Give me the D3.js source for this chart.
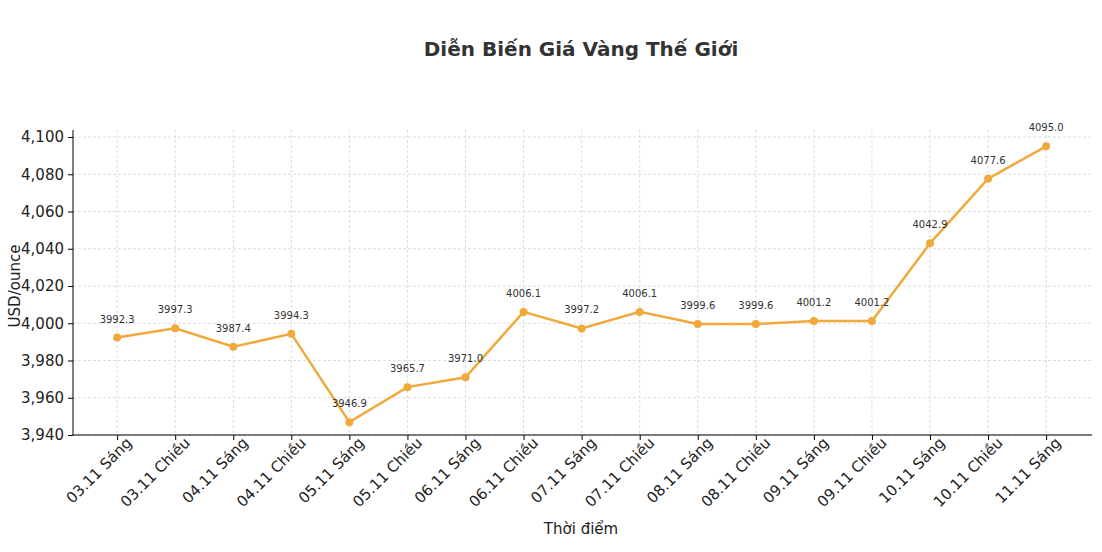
<!DOCTYPE html>
<html><head><meta charset="utf-8">
<script src="https://cdn.jsdelivr.net/npm/d3@7"></script>
<style>body{margin:0;background:#fff;font-family:"DejaVu Sans",sans-serif}</style>
</head><body><svg id="c" width="1102" height="552"></svg>
<script>
let labels = ["03.11 Sáng","03.11 Chiều","04.11 Sáng","04.11 Chiều","05.11 Sáng","05.11 Chiều","06.11 Sáng","06.11 Chiều","07.11 Sáng","07.11 Chiều","08.11 Sáng","08.11 Chiều","09.11 Sáng","09.11 Chiều","10.11 Sáng","10.11 Chiều","11.11 Sáng"];
let prices = [3992.3,3997.3,3987.4,3994.3,3946.9,3965.7,3971.0,4006.1,3997.2,4006.1,3999.6,3999.6,4001.2,4001.2,4042.9,4077.6,4095.0];
let yTicks = [3940,3960,3980,4000,4020,4040,4060,4080,4100];

let svg = d3.select("#c");
let plotLeft = 73, plotRight = 1092, plotTop = 130, plotBottom = 435;
let x = d3.scaleLinear().domain([-0.76, labels.length - 1 + 0.79]).range([plotLeft, plotRight]);
let y = d3.scaleLinear().domain([3940, 4100]).range([plotBottom, 137]);
let color = "#f0a93b";

// grid
svg.append("g").selectAll("line").data(yTicks).join("line")
  .attr("x1", plotLeft).attr("x2", plotRight).attr("y1", d => y(d)).attr("y2", d => y(d))
  .attr("stroke", "#ddd").attr("stroke-dasharray", "3,2");
svg.append("g").selectAll("line").data(labels).join("line")
  .attr("x1", (d, i) => x(i)).attr("x2", (d, i) => x(i)).attr("y1", plotTop).attr("y2", plotBottom)
  .attr("stroke", "#ddd").attr("stroke-dasharray", "3,2");

// axes
let ya = svg.append("g").attr("transform", `translate(${plotLeft},0)`)
  .call(d3.axisLeft(y).tickValues(yTicks).tickSize(5).tickPadding(4));
ya.select(".domain").attr("d", `M0,${plotTop}V${plotBottom}`);
ya.selectAll("text").style("font-size", "15px").style("font-family", "DejaVu Sans").attr("fill", "#222");

let xa = svg.append("g").attr("transform", `translate(0,${plotBottom})`)
  .call(d3.axisBottom(x).tickValues(d3.range(labels.length)).tickFormat(i => labels[i]).tickSize(5));
xa.select(".domain").attr("d", `M${plotLeft},0H${plotRight}`);
xa.selectAll("text").style("font-size", "15px").style("font-family", "DejaVu Sans").attr("fill", "#222")
  .attr("text-anchor", "end").attr("dx", "0.3em").attr("dy", "0.6em")
  .attr("transform", "rotate(-45)");

// line + points
svg.append("path").datum(prices)
  .attr("d", d3.line().x((d, i) => x(i)).y(d => y(d)))
  .attr("fill", "none").attr("stroke", color).attr("stroke-width", 2.5);
svg.append("g").selectAll("circle").data(prices).join("circle")
  .attr("cx", (d, i) => x(i)).attr("cy", d => y(d)).attr("r", 4).attr("fill", color);
svg.append("g").selectAll("text").data(prices).join("text")
  .attr("x", (d, i) => x(i)).attr("y", d => y(d) - 15)
  .attr("text-anchor", "middle").style("font-size", "10px").attr("fill", "#333")
  .text(d => d.toFixed(1));

// titles
svg.append("text").attr("x", 581).attr("y", 56).attr("text-anchor", "middle")
  .style("font-size", "20px").style("font-weight", "bold").attr("fill", "#333")
  .text("Diễn Biến Giá Vàng Thế Giới");
svg.append("text").attr("x", 581).attr("y", 534).attr("text-anchor", "middle")
  .style("font-size", "15px").attr("fill", "#222").text("Thời điểm");
svg.append("text").attr("transform", "translate(20,286) rotate(-90)").attr("text-anchor", "middle")
  .style("font-size", "15px").attr("fill", "#222").text("USD/ounce");
</script></body></html>
